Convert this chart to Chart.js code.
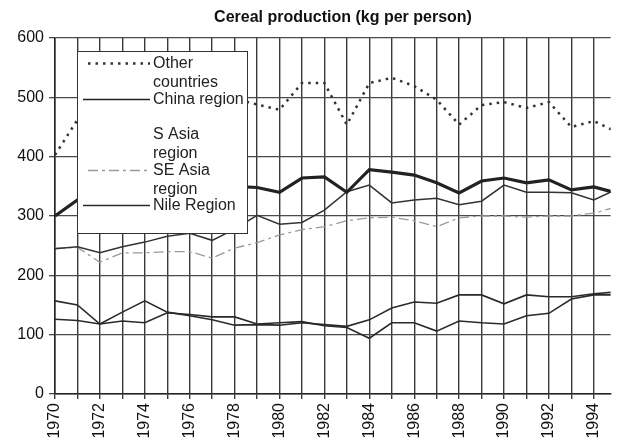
<!DOCTYPE html>
<html>
<head>
<meta charset="utf-8">
<script src="https://cdn.jsdelivr.net/npm/chart.js@4.4.0/dist/chart.umd.min.js"></script>
<style>
  html, body { margin: 0; padding: 0; background: #fff; }
  #wrap { width: 617px; height: 448px; }
</style>
</head>
<body>
<div id="wrap"><canvas id="my-chart" width="617" height="448"></canvas></div>
<script>
// data (kg per person)
const years = [1970, 1971, 1972, 1973, 1974, 1975, 1976, 1977, 1978, 1979, 1980, 1981, 1982,
  1983, 1984, 1985, 1986, 1987, 1988, 1989, 1990, 1991, 1992, 1993, 1994, 1995];
const tickLabels = ['1970', '1972', '1974', '1976', '1978', '1980', '1982', '1984', '1986',
  '1988', '1990', '1992', '1994'];

const otherCountries = [403, 462, 470, 490, 500, 510, 500, 505, 498, 488, 479, 524, 524,
  454, 524, 533, 519, 496, 454, 487, 492, 482, 492, 450, 460, 442];
const chinaRegion = [300, 327, 318, 330, 335, 340, 342, 345, 350, 348, 340, 364, 366,
  340, 378, 374, 369, 356, 339, 359, 364, 356, 361, 344, 349, 339];
const sAsiaRegion = [245, 248, 238, 248, 256, 266, 271, 259, 278, 301, 286, 289, 310,
  341, 352, 322, 327, 330, 319, 325, 352, 340, 340, 339, 327, 345];
const seAsiaRegion = [246, 247, 222, 238, 238, 240, 240, 229, 246, 255, 268, 277, 282,
  292, 297, 298, 292, 282, 297, 300, 300, 298, 300, 300, 305, 315];
const nileRegion = [157, 150, 118, 138, 157, 138, 132, 125, 116, 117, 116, 120, 117,
  114, 125, 145, 155, 153, 167, 167, 152, 167, 164, 164, 169, 172];
const unlabelled = [126, 124, 118, 123, 120, 137, 134, 130, 130, 118, 120, 122, 115,
  112, 94, 120, 120, 106, 123, 120, 118, 132, 136, 160, 167, 167];

const FONT = '"Liberation Sans", Arial, sans-serif';

const toXY = (vals) => vals.map((v, i) => ({ x: years[i], y: v }));

const datasets = [
  { label: 'Other countries', data: toXY(otherCountries), borderColor: '#333',
    borderWidth: 2.5, borderDash: [2.5, 5] },
  { label: 'China region', data: toXY(chinaRegion), borderColor: '#222', borderWidth: 3.2 },
  { label: 'S Asia region', data: toXY(sAsiaRegion), borderColor: '#333', borderWidth: 1.5,
    noSample: true },
  { label: 'SE Asia region', data: toXY(seAsiaRegion), borderColor: '#9a9a9a',
    borderWidth: 1.3, borderDash: [10, 4, 3, 4] },
  { label: 'Nile Region', data: toXY(nileRegion), borderColor: '#2a2a2a', borderWidth: 1.6 },
  { data: toXY(unlabelled), borderColor: '#2a2a2a', borderWidth: 1.6 },
];
datasets.forEach((d) => { d.pointRadius = 0; d.tension = 0; d.fill = false; });

// title drawn by hand so it can sit off-centre like the cropped original
const titlePlugin = {
  id: 'titlePlugin',
  afterDraw(chart) {
    const ctx = chart.ctx;
    ctx.save();
    ctx.font = 'bold 16px ' + FONT;
    ctx.fillStyle = '#111';
    ctx.textAlign = 'center';
    ctx.textBaseline = 'middle';
    ctx.fillText('Cereal production (kg per person)', 343, 18);
    ctx.restore();
  }
};

// boxed legend with wrapped labels
const boxLegend = {
  id: 'boxLegend',
  afterDatasetsDraw(chart) {
    const ctx = chart.ctx;
    ctx.save();
    ctx.fillStyle = '#fff';
    ctx.fillRect(77, 51, 170, 182);
    ctx.strokeStyle = '#333';
    ctx.lineWidth = 1;
    ctx.strokeRect(77.5, 51.5, 170, 182);
    ctx.font = '16px ' + FONT;
    ctx.textBaseline = 'middle';
    let i = 0;
    chart.data.datasets.forEach((ds) => {
      if (!ds.label) return;
      const y = Math.round(63 + i * 35.5) + 0.5;
      if (!ds.noSample) {
        ctx.beginPath();
        ctx.strokeStyle = ds.borderColor;
        ctx.lineWidth = ds.borderDash && ds.borderDash[0] < 3 ? ds.borderWidth : 1.3;
        ctx.setLineDash(ds.borderDash || []);
        ctx.moveTo(ds.borderDash ? 88 : 83, y);
        ctx.lineTo(150, y);
        ctx.stroke();
        ctx.setLineDash([]);
      }
      // word wrap
      const words = ds.label.split(' ');
      const lines = [];
      let cur = '';
      words.forEach((w) => {
        const t = cur ? cur + ' ' + w : w;
        if (ctx.measureText(t).width > 93 && cur) { lines.push(cur); cur = w; } else cur = t;
      });
      lines.push(cur);
      ctx.fillStyle = '#222';
      lines.forEach((t, j) => ctx.fillText(t, 153, y + j * 19.5));
      i++;
    });
    ctx.restore();
  }
};

const config = {
  type: 'line',
  data: { datasets },
  options: {
    responsive: false,
    animation: false,
    layout: { padding: { top: 38, right: 0, left: 0, bottom: 0 } },
    plugins: { legend: { display: false }, title: { display: false }, tooltip: { enabled: false } },
    scales: {
      x: {
        type: 'linear',
        min: 1970,
        max: 1994.75,
        afterBuildTicks: (s) => { s.ticks = years.slice(0, 25).map((v) => ({ value: v })); },
        afterFit: (s) => { s.height = 54; },
        grid: { color: '#3a3a3a', lineWidth: 1.4, tickLength: 5, drawTicks: true },
        border: { color: '#222', width: 1.5 },
        ticks: {
          autoSkip: false,
          maxRotation: 90,
          minRotation: 90,
          padding: 4,
          color: '#111',
          font: { family: FONT, size: 16 },
          callback: (v) => (tickLabels.includes(String(v)) ? String(v) : ''),
        },
      },
      y: {
        min: 0,
        max: 600,
        afterFit: (s) => { s.width = 55; },
        grid: { color: '#4a4a4a', lineWidth: 1.3, tickLength: 6 },
        border: { color: '#222', width: 1.5 },
        ticks: {
          stepSize: 100,
          padding: 5,
          color: '#111',
          font: { family: FONT, size: 16 },
        },
      },
    },
  },
  plugins: [boxLegend, titlePlugin],
};

const myChart = document.getElementById('my-chart');
new Chart(myChart, config);
</script>
</body>
</html>
